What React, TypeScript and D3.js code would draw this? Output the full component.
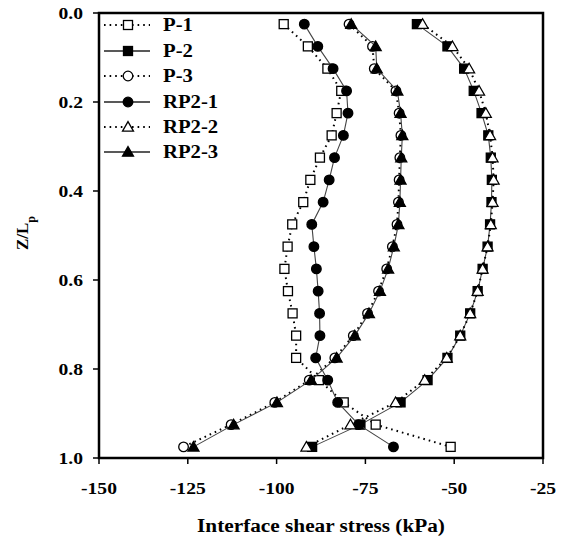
import React from "react";
import * as d3 from "d3";

const depth = [0.025, 0.075, 0.125, 0.175, 0.225, 0.275, 0.325, 0.375, 0.425, 0.475, 0.525, 0.575, 0.625, 0.675, 0.725, 0.775, 0.825, 0.875, 0.925, 0.975];
const P1 = [-98.0, -91.2, -85.7, -81.8, -83.1, -84.5, -87.8, -90.5, -92.5, -95.6, -96.9, -97.8, -96.8, -95.5, -94.5, -94.5, -88.1, -81.1, -72.1, -51.0];
const P2 = [-60.5, -51.9, -47.2, -44.5, -42.3, -40.4, -39.7, -39.4, -39.5, -39.9, -40.6, -42.0, -43.4, -45.5, -48.3, -51.9, -57.5, -65.1, -76.4, -90.0];
const P3 = [-79.6, -73.0, -72.5, -66.4, -65.5, -65.0, -65.3, -65.5, -65.7, -66.1, -67.4, -69.0, -71.3, -74.4, -78.4, -83.6, -90.8, -100.5, -112.8, -126.2];
const RP2_1 = [-92.2, -88.4, -84.1, -80.3, -79.9, -81.2, -83.7, -85.2, -86.9, -90.1, -89.5, -88.8, -88.3, -87.9, -87.8, -89.0, -85.6, -82.8, -76.9, -67.1];
const RP2_2 = [-58.9, -50.5, -45.8, -43.0, -41.1, -39.9, -39.2, -38.9, -39.2, -39.7, -40.6, -42.0, -43.4, -45.5, -48.3, -52.1, -58.3, -66.5, -79.2, -91.6];
const RP2_3 = [-79.0, -72.1, -71.8, -66.0, -65.1, -64.6, -64.9, -65.1, -65.3, -65.7, -67.0, -68.6, -70.9, -74.0, -78.0, -83.1, -90.3, -99.9, -112.1, -123.4];

const xTicks = [-150, -125, -100, -75, -50, -25];
const yTicks = [0.0, 0.2, 0.4, 0.6, 0.8, 1.0];

const seriesNames = ["P-1", "P-2", "P-3", "RP2-1", "RP2-2", "RP2-3"];
const seriesValues = [P1, P2, P3, RP2_1, RP2_2, RP2_3];
const seriesShape = ["square", "square", "circle", "circle", "triangle", "triangle"];
const seriesFilled = [false, true, false, true, false, true];
const seriesDotted = [true, false, true, false, true, false];

const FONT = "'Liberation Serif', 'Times New Roman', serif";
const SX = 1.12;

function Marker({ shape, filled, cx, cy }: { shape: string; filled: boolean; cx: number; cy: number }) {
  const fill = filled ? "#000" : "#fff";
  const stroke = "#000";
  if (shape === "square") {
    const s = 9;
    return <rect x={cx - s / 2} y={cy - s / 2} width={s} height={s} fill={fill} stroke={stroke} strokeWidth={1.3} />;
  }
  if (shape === "circle") {
    return <circle cx={cx} cy={cy} r={4.8} fill={fill} stroke={stroke} strokeWidth={1.3} />;
  }
  const sym = d3.symbol().type(d3.symbolTriangle).size(52)();
  return <path d={sym || ""} transform={`translate(${cx},${cy + 1})`} fill={fill} stroke={stroke} strokeWidth={1.3} />;
}

function SText({ x, y, anchor, size, children }: { x: number; y: number; anchor?: string; size: number; children: React.ReactNode }) {
  return (
    <text
      transform={`translate(${x},${y}) scale(${SX},1)`}
      textAnchor={anchor || "start"}
      fontSize={size}
      fontWeight="bold"
      fill="#000"
    >
      {children}
    </text>
  );
}

export default function App() {
  const W = 566, H = 540;
  const left = 99, right = 543, top = 13, bottom = 458;
  const x = d3.scaleLinear().domain([-150, -25]).range([left, right]);
  const y = d3.scaleLinear().domain([0, 1]).range([top, bottom]);

  const line = d3.line<[number, number]>().x((d) => x(d[0])).y((d) => y(d[1]));

  const legendRows = [25, 51, 76, 102, 127, 152];

  return (
    <svg width={W} height={H} style={{ position: "absolute", left: 0, top: 0, background: "#fff" }} fontFamily={FONT}>
      <rect x={0} y={0} width={W} height={H} fill="#fff" />
      {seriesValues.map((vals, i) => {
        const pts = vals.map((v, j) => [v, depth[j]] as [number, number]);
        return (
          <g key={"s" + i}>
            <path
              d={line(pts) || ""}
              fill="none"
              stroke={seriesDotted[i] ? "#000" : "#444"}
              strokeWidth={seriesDotted[i] ? 2 : 1.1}
              strokeDasharray={seriesDotted[i] ? "1.6,4" : undefined}
            />
            {pts.map((p, j) => (
              <Marker key={j} shape={seriesShape[i]} filled={seriesFilled[i]} cx={x(p[0])} cy={y(p[1])} />
            ))}
          </g>
        );
      })}

      <rect x={left} y={top} width={right - left} height={bottom - top} fill="none" stroke="#000" strokeWidth={2.5} />

      {xTicks.map((t) => (
        <g key={"xt" + t}>
          <line x1={x(t)} x2={x(t)} y1={bottom} y2={bottom + 6} stroke="#000" strokeWidth={1.5} />
          <SText x={x(t)} y={494} anchor="middle" size={17.5}>
            {t}
          </SText>
        </g>
      ))}
      {yTicks.map((t) => (
        <g key={"yt" + t}>
          <line x1={left - 6} x2={left} y1={y(t)} y2={y(t)} stroke="#000" strokeWidth={1.5} />
          <SText x={83} y={y(t) + 6.3} anchor="end" size={17.5}>
            {d3.format(".1f")(t)}
          </SText>
        </g>
      ))}

      <SText x={(left + right) / 2} y={532} anchor="middle" size={19}>
        Interface shear stress (kPa)
      </SText>
      <text transform={`translate(28,233) rotate(-90)`} textAnchor="middle" fontSize={17} fontWeight="bold" fill="#000">
        Z/L<tspan baselineShift="sub" fontSize={12}>p</tspan>
      </text>

      {seriesNames.map((name, i) => (
        <g key={"lg" + i}>
          <line
            x1={104}
            x2={150}
            y1={legendRows[i]}
            y2={legendRows[i]}
            stroke={seriesDotted[i] ? "#000" : "#222"}
            strokeWidth={seriesDotted[i] ? 2 : 1.3}
            strokeDasharray={seriesDotted[i] ? "1.6,4" : undefined}
          />
          <Marker shape={seriesShape[i]} filled={seriesFilled[i]} cx={128} cy={legendRows[i]} />
          <SText x={163} y={legendRows[i] + 6.3} size={18.5}>
            {name}
          </SText>
        </g>
      ))}
    </svg>
  );
}
